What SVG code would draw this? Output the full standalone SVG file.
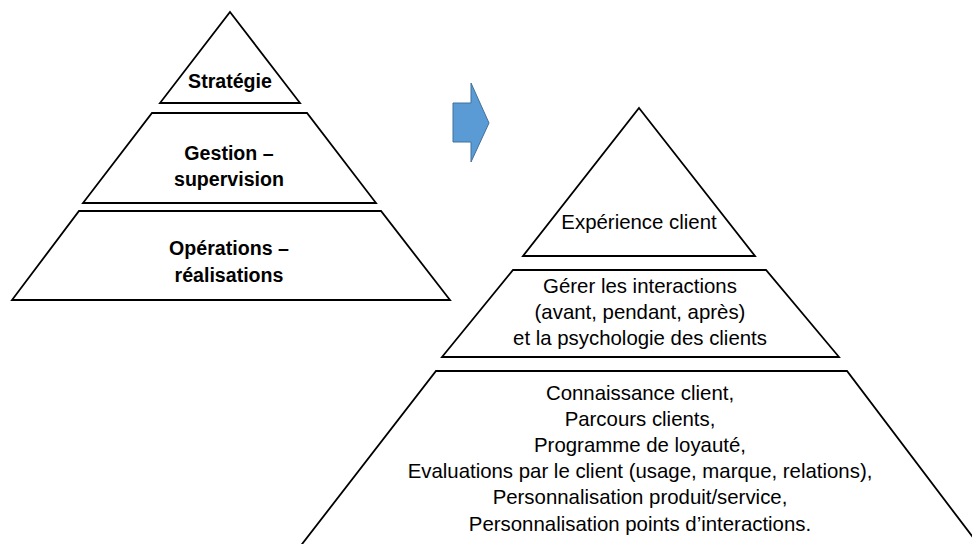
<svg xmlns="http://www.w3.org/2000/svg" width="972" height="544" viewBox="0 0 972 544">
<style>
.shape{fill:#ffffff;stroke:#000000;stroke-width:1.8;stroke-linejoin:miter}
.b{font-family:"Liberation Sans",Arial,sans-serif;font-weight:bold;font-size:19.6px;fill:#000;text-anchor:middle}
.r{font-family:"Liberation Sans",Arial,sans-serif;font-size:20.4px;fill:#000;text-anchor:middle}
.arrow{fill:#5B9BD5;stroke:#41719C;stroke-width:1}
</style>
<rect x="0" y="0" width="972" height="544" fill="#ffffff"/>
<g id="left-strategie">
<polygon class="shape" points="230,12 300,103 160,103"/>
<text class="b" x="230" y="88">Stratégie</text>
</g>
<g id="left-gestion">
<polygon class="shape" points="152,113 307,113 376,203 83,203"/>
<text class="b" x="229" y="160">Gestion –</text>
<text class="b" x="229" y="186">supervision</text>
</g>
<g id="left-operations">
<polygon class="shape" points="79,211 381,211 450,300 12,300"/>
<text class="b" x="229" y="255">Opérations –</text>
<text class="b" x="229" y="282">réalisations</text>
</g>
<g id="connectors">
<polygon class="arrow" points="453,103 471,103 471,83 489,123 471,162 471,142 453,142"/>
</g>
<g id="right-experience">
<polygon class="shape" points="639,108 755,256 523,256"/>
<text class="r" x="639" y="229">Expérience client</text>
</g>
<g id="right-interactions">
<polygon class="shape" points="513,270 766,270 839,357 442,357"/>
<text class="r" x="640" y="293">Gérer les interactions</text>
<text class="r" x="640" y="319">(avant, pendant, après)</text>
<text class="r" x="640" y="345">et la psychologie des clients</text>
</g>
<g id="right-fondations">
<polygon class="shape" points="436,371 847,371 981,548 299,548"/>
<text class="r" x="640" y="400">Connaissance client,</text>
<text class="r" x="640" y="426">Parcours clients,</text>
<text class="r" x="640" y="452">Programme de loyauté,</text>
<text class="r" x="640" y="478">Evaluations par le client (usage, marque, relations),</text>
<text class="r" x="640" y="504">Personnalisation produit/service,</text>
<text class="r" x="640" y="531">Personnalisation points d’interactions.</text>
</g>
</svg>
